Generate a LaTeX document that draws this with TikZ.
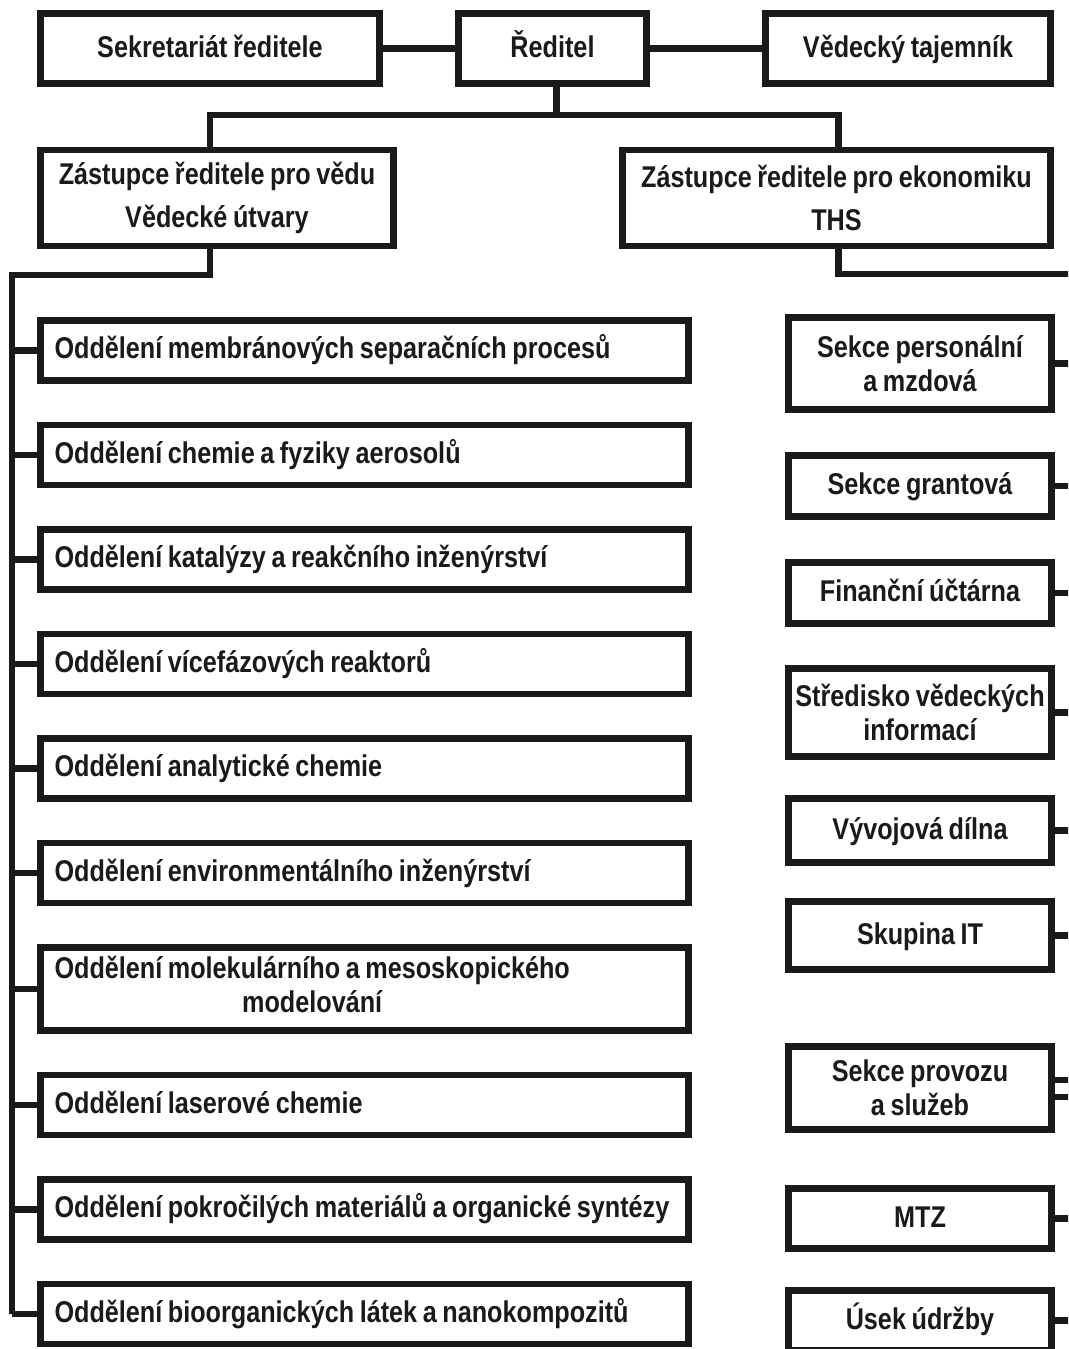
\documentclass[tikz,border=0pt]{standalone}
\usepackage{fontspec}
\setmainfont{Liberation Sans}[FakeStretch=0.84, WordSpace=0.8]
\usepackage{tikz}
\usetikzlibrary{positioning}
\usepackage{xcolor}
\definecolor{ink}{HTML}{1A1A1A}

\tikzset{
  orgbox/.style={draw=ink, line width=6.5pt, fill=white, inner sep=0pt, text=ink,
    font=\fontsize{30}{34}\selectfont\bfseries, align=center},
  oneline/.style={text height=22pt, text depth=5pt},
  deptbox/.style={orgbox, minimum width=648pt, minimum height=60pt, text width=620pt,
    align=flush left, anchor=north},
  unitbox/.style={orgbox, minimum width=263pt},
  link/.style={draw=ink, line width=6.5pt}
}

\begin{document}
\begin{tikzpicture}[x=1pt, y=-1pt]
\useasboundingbox (0,0) rectangle (1068,1349);
\clip (0,0) rectangle (1068,1349);
\fill[white] (0,0) rectangle (1068,1349);

% vedeni
\node[orgbox, oneline, minimum width=339pt, minimum height=70pt] (sekr) at (210,48.5) {Sekretariát ředitele};
\node[orgbox, oneline, minimum width=188pt, minimum height=70pt] (red) at (552.5,48.5) {Ředitel};
\node[orgbox, oneline, minimum width=285pt, minimum height=70pt] (taj) at (908,48.5) {Vědecký tajemník};
\node[orgbox, minimum width=353pt, minimum height=96pt] (veda) at (217,198)
  {Zástupce ředitele pro vědu\\[9pt]Vědecké útvary};
\node[orgbox, minimum width=428pt, minimum height=96pt] (ekon) at (836.5,198)
  {Zástupce ředitele pro ekonomiku\\[9pt]THS};

% vedecke utvary
\node[deptbox, oneline] (d1) at (364.5,317) {Oddělení membránových separačních procesů};
\node[deptbox, oneline, below=38pt of d1] (d2) {Oddělení chemie a fyziky aerosolů};
\node[deptbox, oneline, below=38pt of d2] (d3) {Oddělení katalýzy a reakčního inženýrství};
\node[deptbox, oneline, below=38pt of d3] (d4) {Oddělení vícefázových reaktorů};
\node[deptbox, oneline, below=38pt of d4] (d5) {Oddělení analytické chemie};
\node[deptbox, oneline, below=38pt of d5] (d6) {Oddělení environmentálního inženýrství};
\node[deptbox, below=38pt of d6, minimum height=83pt] (d7)
  {\begin{tabular}{@{}c@{}}Oddělení molekulárního a mesoskopického\\modelování\end{tabular}};
\node[deptbox, oneline, below=38pt of d7] (d8) {Oddělení laserové chemie};
\node[deptbox, oneline, below=38pt of d8] (d9) {Oddělení pokročilých materiálů a organické syntézy};
\node[deptbox, oneline, below=38pt of d9] (d10) {Oddělení bioorganických látek a nanokompozitů};

% THS
\node[unitbox, minimum height=92pt] (u1) at (920,363.5) {Sekce personální\\a mzdová};
\node[unitbox, oneline, minimum height=61pt] (u2) at (920,486) {Sekce grantová};
\node[unitbox, oneline, minimum height=61pt] (u3) at (920,593) {Finanční účtárna};
\node[unitbox, minimum height=88pt] (u4) at (920,712.5) {Středisko vědeckých\\informací};
\node[unitbox, oneline, minimum height=64pt] (u5) at (920,830.5) {Vývojová dílna};
\node[unitbox, oneline, minimum height=68pt] (u6) at (920,935.5) {Skupina IT};
\node[unitbox, minimum height=83pt] (u7) at (920,1088) {Sekce provozu\\a služeb};
\node[unitbox, oneline, minimum height=60pt] (u8) at (920,1218.5) {MTZ};
\node[unitbox, oneline, minimum height=60pt] (u9) at (920,1320.5) {Úsek údržby};

% spoje
\draw[link] (sekr) -- (red);
\draw[link] (red) -- (taj);
\draw[link] ([xshift=4pt]red.south) -- ++(0,28) coordinate (split) -| ([xshift=-7pt]veda.north);
\draw[link] (split) -| ([xshift=2pt]ekon.north);

\coordinate (lbus) at (12,275);
\draw[link] ([xshift=-7pt]veda.south) |- (lbus) -- (lbus |- d10.west);
\foreach \d in {d1,d2,d3,d4,d5,d6,d7,d8,d9,d10}
  \draw[link] (\d.west) -- (lbus |- \d.west);

\coordinate (rbus) at (1076,274);
\draw[link] ([xshift=2pt]ekon.south) |- (rbus) -- (rbus |- u9.east);
\foreach \u in {u1,u2,u3,u4,u5,u6,u8,u9}
  \draw[link] (\u.east) -- (rbus |- \u.east);
\coordinate (u7a) at ([yshift=8pt]u7.east);
\coordinate (u7b) at ([yshift=-9pt]u7.east);
\draw[link] (u7a) -- (rbus |- u7a);
\draw[link] (u7b) -- (rbus |- u7b);
\end{tikzpicture}
\end{document}
